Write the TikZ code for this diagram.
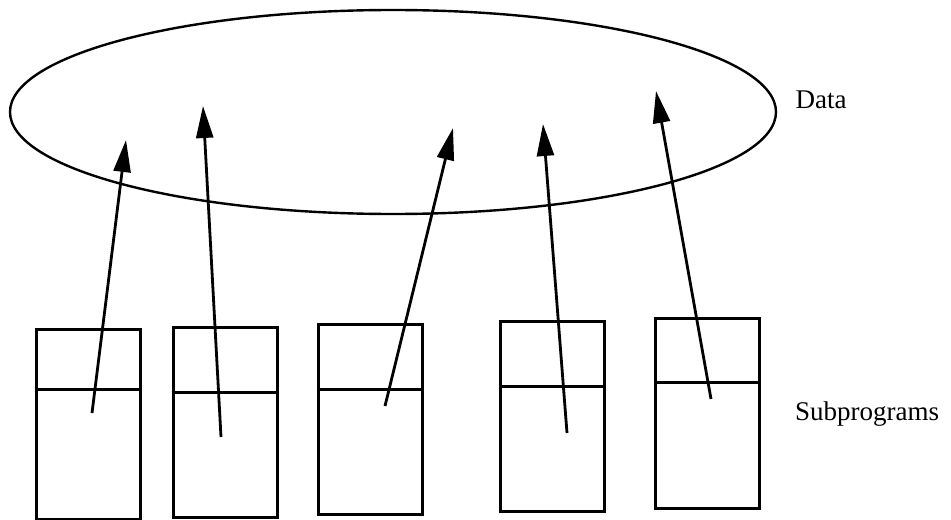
\documentclass[tikz,border=0pt]{standalone}
\usepackage{fontspec}
\setmainfont{Liberation Serif}
\usepackage{tikz}
\usetikzlibrary{arrows.meta, shapes.geometric}

\begin{document}
\begin{tikzpicture}[
  x=0.5pt, y=-0.5pt,
  pool/.style={ellipse, draw, line width=1.2pt, minimum width=383pt,
    minimum height=102pt, inner sep=0pt},
  prog/.style={rectangle, draw, line width=1.5pt, minimum width=52pt,
    minimum height=95pt, inner sep=0pt},
  access/.style={line width=1.4pt, -{Triangle[length=16pt, width=8.5pt]}},
  lbl/.style={font=\fontsize{13.5}{16}\selectfont, inner sep=0pt},
]
  \useasboundingbox (0,0) rectangle (951,519);

  % shared data
  \node[pool] (data) at (393,112) {};
  \node[lbl] (datalbl) at (821,100) {Data};

  % subprograms: number / centre x / centre y / divider y / tail / head
  \foreach \n/\cx/\cy/\dy/\tx/\ty/\hx/\hy in {
      1/88/424/389/92/413/126/140,
      2/225/422/392/221/437/203/106,
      3/370/419/389/385/406/453/128,
      4/552/416/386/567/433/543/124,
      5/707/413/382/711/399/656/91} {
    \node[prog] (p\n) at (\cx,\cy) {};
    \draw[line width=1.5pt] (p\n.west |- 0,\dy) -- (p\n.east |- 0,\dy);
    \coordinate (t\n) at (\tx,\ty);
    \coordinate (h\n) at (\hx,\hy);
    \draw[access] (t\n) -- (h\n);
  }
  \node[lbl] (proglbl) at (867,414) {Subprograms};
\end{tikzpicture}
\end{document}
